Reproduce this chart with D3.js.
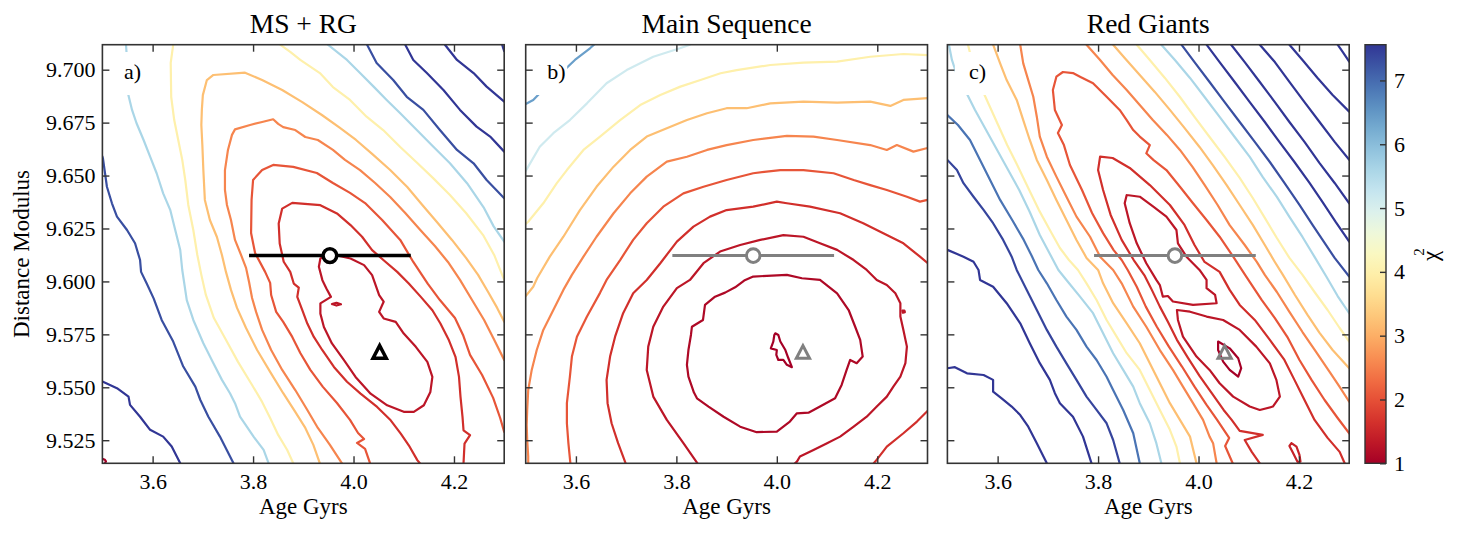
<!DOCTYPE html>
<html>
<head>
<meta charset="utf-8">
<script src="https://cdn.jsdelivr.net/npm/d3@7"></script>
<style>
  body { margin: 0; background: #fff; }
  svg { display: block; font-family: "Liberation Serif", "DejaVu Serif", serif; }
  svg text { font-family: "Liberation Serif", "DejaVu Serif", serif; }
</style>
</head>
<body>
<div id="chart"></div>
<script>
// ---- data ----
const panelTitles = ['MS + RG', 'Main Sequence', 'Red Giants'];
const panelTags = ['a)', 'b)', 'c)'];
const ageTicks = [3.6, 3.8, 4.0, 4.2];
const dmTicks = [9.525, 9.55, 9.575, 9.6, 9.625, 9.65, 9.675, 9.7];
const chiTicks = [1, 2, 3, 4, 5, 6, 7];
const ageRange = [3.5, 4.3];
const dmRange = [9.5141, 9.7118];
const chiRange = [1, 7.56];
// circle = best fit with age error, triangle = second solution
const circleFit = [3.953, 9.6122, 0.161];
const triangleFit = [4.052, 9.5667];
const markerColors = ['#000000', '#808080', '#808080'];

// chi2 contour lines, [age, distance modulus]
const contoursMSRG = [
  {level: 7.3, pts: [[3.500,9.6590],[3.501,9.6582],[3.509,9.6447],[3.519,9.6369],[3.529,9.6306],[3.549,9.6243],[3.565,9.6180],[3.575,9.6101],[3.577,9.6045],[3.588,9.5991],[3.602,9.5920],[3.618,9.5818],[3.641,9.5716],[3.661,9.5598],[3.685,9.5503],[3.695,9.5440],[3.711,9.5361],[3.734,9.5267],[3.761,9.5141]]},
  {level: 9, pts: [[3.500,9.5527],[3.529,9.5496],[3.552,9.5456],[3.555,9.5417],[3.575,9.5361],[3.595,9.5299],[3.621,9.5267],[3.638,9.5220],[3.655,9.5141]]},
  {level: 1.0, pts: [[3.500,9.5162],[3.505,9.5158],[3.507,9.5150],[3.505,9.5141]]},
  {level: 5.6, pts: [[3.547,9.7118],[3.549,9.7046],[3.551,9.6888],[3.559,9.6810],[3.568,9.6747],[3.582,9.6668],[3.595,9.6589],[3.608,9.6511],[3.621,9.6416],[3.635,9.6338],[3.645,9.6243],[3.655,9.6148],[3.659,9.6054],[3.668,9.5912],[3.681,9.5818],[3.701,9.5708],[3.721,9.5613],[3.738,9.5535],[3.754,9.5472],[3.764,9.5425],[3.774,9.5361],[3.801,9.5267],[3.821,9.5204],[3.831,9.5141]]},
  {level: 4.0, pts: [[3.641,9.7118],[3.636,9.7032],[3.637,9.6871],[3.643,9.6762],[3.651,9.6668],[3.659,9.6574],[3.665,9.6479],[3.671,9.6361],[3.681,9.6243],[3.689,9.6125],[3.697,9.6031],[3.706,9.5936],[3.722,9.5827],[3.744,9.5733],[3.770,9.5620],[3.798,9.5511],[3.818,9.5431],[3.834,9.5355],[3.850,9.5275],[3.868,9.5204],[3.880,9.5141]]},
  {level: 4.0, pts: [[3.854,9.7118],[3.874,9.7084],[3.894,9.7046],[3.933,9.6984],[3.959,9.6918],[3.993,9.6857],[4.026,9.6778],[4.059,9.6715],[4.093,9.6635],[4.127,9.6559],[4.158,9.6489],[4.192,9.6408],[4.224,9.6323],[4.258,9.6219],[4.280,9.6125],[4.300,9.6007]]},
  {level: 5.6, pts: [[3.949,9.7118],[3.987,9.7046],[4.013,9.6984],[4.040,9.6920],[4.066,9.6857],[4.093,9.6794],[4.126,9.6715],[4.159,9.6636],[4.192,9.6558],[4.226,9.6464],[4.259,9.6350],[4.279,9.6260],[4.300,9.6188]]},
  {level: 7.3, pts: [[4.027,9.7118],[4.046,9.7032],[4.079,9.6951],[4.106,9.6872],[4.139,9.6810],[4.172,9.6715],[4.206,9.6621],[4.239,9.6558],[4.265,9.6479],[4.300,9.6393]]},
  {level: 9, pts: [[4.103,9.7118],[4.119,9.7046],[4.146,9.6984],[4.179,9.6904],[4.212,9.6810],[4.245,9.6731],[4.272,9.6684],[4.300,9.6613]]},
  {level: 11, pts: [[4.182,9.7118],[4.206,9.7046],[4.239,9.6984],[4.265,9.6920],[4.300,9.6849]]},
  {level: 13, pts: [[4.296,9.7118],[4.298,9.7102],[4.300,9.7088]]},
  {level: 3.2, pts: [[3.933,9.5141],[3.920,9.5228],[3.904,9.5308],[3.884,9.5384],[3.860,9.5472],[3.834,9.5573],[3.808,9.5676],[3.786,9.5780],[3.768,9.5875],[3.756,9.5960],[3.746,9.6045],[3.738,9.6125],[3.728,9.6210],[3.714,9.6290],[3.704,9.6385],[3.701,9.6526],[3.699,9.6644],[3.697,9.6739],[3.698,9.6810],[3.700,9.6880],[3.708,9.6951],[3.721,9.6975],[3.784,9.6986],[3.818,9.6951],[3.858,9.6904],[3.898,9.6847],[3.937,9.6786],[3.973,9.6725],[4.005,9.6668],[4.037,9.6602],[4.073,9.6526],[4.107,9.6446],[4.137,9.6361],[4.166,9.6281],[4.196,9.6196],[4.224,9.6111],[4.248,9.6031],[4.268,9.5950],[4.286,9.5875],[4.300,9.5810]]},
  {level: 2.55, pts: [[3.977,9.5141],[3.953,9.5228],[3.929,9.5308],[3.908,9.5393],[3.884,9.5487],[3.858,9.5582],[3.836,9.5676],[3.818,9.5771],[3.806,9.5856],[3.798,9.5922],[3.792,9.5997],[3.786,9.6064],[3.776,9.6125],[3.764,9.6196],[3.756,9.6290],[3.748,9.6361],[3.744,9.6432],[3.744,9.6526],[3.750,9.6621],[3.758,9.6692],[3.764,9.6718],[3.794,9.6739],[3.818,9.6753],[3.840,9.6766],[3.850,9.6744],[3.860,9.6729],[3.884,9.6715],[3.904,9.6682],[3.929,9.6668],[3.959,9.6621],[3.983,9.6574],[4.013,9.6526],[4.043,9.6465],[4.073,9.6399],[4.103,9.6323],[4.133,9.6243],[4.162,9.6167],[4.188,9.6092],[4.212,9.6007],[4.236,9.5912],[4.260,9.5818],[4.280,9.5724],[4.300,9.5629]]},
  {level: 2.05, pts: [[4.033,9.5141],[4.023,9.5209],[4.007,9.5237],[4.021,9.5256],[4.009,9.5284],[3.993,9.5346],[3.967,9.5426],[3.939,9.5502],[3.914,9.5582],[3.894,9.5662],[3.878,9.5738],[3.860,9.5809],[3.846,9.5856],[3.836,9.5936],[3.834,9.5993],[3.824,9.6045],[3.804,9.6134],[3.796,9.6229],[3.797,9.6385],[3.800,9.6479],[3.818,9.6526],[3.840,9.6550],[3.880,9.6541],[3.927,9.6512],[3.959,9.6465],[3.993,9.6418],[4.023,9.6370],[4.057,9.6290],[4.093,9.6196],[4.119,9.6092],[4.148,9.5988],[4.172,9.5912],[4.202,9.5827],[4.218,9.5747],[4.232,9.5653],[4.256,9.5558],[4.278,9.5450],[4.292,9.5355],[4.300,9.5289]]},
  {level: 1.62, pts: [[4.132,9.5141],[4.127,9.5156],[4.110,9.5226],[4.094,9.5281],[4.074,9.5344],[4.047,9.5407],[4.014,9.5470],[3.987,9.5526],[3.961,9.5596],[3.938,9.5675],[3.921,9.5738],[3.908,9.5801],[3.898,9.5864],[3.888,9.5927],[3.891,9.5971],[3.881,9.5990],[3.874,9.6045],[3.861,9.6093],[3.853,9.6179],[3.851,9.6274],[3.858,9.6344],[3.878,9.6371],[3.934,9.6360],[3.967,9.6321],[3.994,9.6266],[4.017,9.6211],[4.037,9.6148],[4.060,9.6100],[4.087,9.6045],[4.110,9.5990],[4.134,9.5927],[4.157,9.5864],[4.173,9.5801],[4.190,9.5722],[4.203,9.5644],[4.210,9.5549],[4.213,9.5455],[4.217,9.5360],[4.219,9.5297],[4.232,9.5274],[4.221,9.5234],[4.219,9.5140]]},
  {level: 1.3, pts: [[3.953,9.6130],[3.934,9.6108],[3.931,9.6069],[3.938,9.6006],[3.946,9.5967],[3.955,9.5927],[3.934,9.5896],[3.934,9.5848],[3.941,9.5785],[3.957,9.5707],[3.981,9.5628],[4.004,9.5549],[4.034,9.5470],[4.067,9.5415],[4.100,9.5384],[4.120,9.5384],[4.140,9.5415],[4.153,9.5478],[4.157,9.5549],[4.147,9.5620],[4.124,9.5691],[4.100,9.5754],[4.084,9.5809],[4.060,9.5825],[4.051,9.5856],[4.060,9.5904],[4.051,9.5935],[4.044,9.5982],[4.037,9.6030],[4.021,9.6077],[3.994,9.6108],[3.974,9.6119],[3.953,9.6130]]},
  {level: 1.3, pts: [[3.957,9.5893],[3.966,9.5899],[3.975,9.5892],[3.966,9.5886],[3.957,9.5893]]}
];

const contoursMS = [
  {level: 6.4, pts: [[3.500,9.6838],[3.515,9.6857],[3.528,9.6889],[3.562,9.6965],[3.598,9.7046],[3.628,9.7101],[3.636,9.7118]]},
  {level: 5.13, pts: [[3.500,9.6522],[3.505,9.6542],[3.528,9.6636],[3.555,9.6700],[3.588,9.6762],[3.622,9.6841],[3.661,9.6936],[3.701,9.6998],[3.754,9.7061],[3.807,9.7101],[3.827,9.7118]]},
  {level: 4.0, pts: [[3.500,9.6271],[3.505,9.6282],[3.535,9.6369],[3.562,9.6464],[3.582,9.6526],[3.615,9.6621],[3.648,9.6684],[3.688,9.6762],[3.728,9.6833],[3.768,9.6880],[3.808,9.6920],[3.848,9.6951],[3.888,9.6983],[3.920,9.6998],[3.987,9.7022],[4.053,9.7033],[4.120,9.7038],[4.186,9.7061],[4.252,9.7074],[4.300,9.7069]]},
  {level: 3.2, pts: [[3.500,9.5931],[3.515,9.5975],[3.523,9.6016],[3.548,9.6117],[3.575,9.6211],[3.608,9.6337],[3.641,9.6447],[3.675,9.6542],[3.708,9.6621],[3.741,9.6684],[3.781,9.6723],[3.821,9.6762],[3.861,9.6794],[3.900,9.6818],[3.940,9.6818],[3.987,9.6841],[4.053,9.6849],[4.120,9.6844],[4.186,9.6849],[4.226,9.6829],[4.252,9.6857],[4.300,9.6866]]},
  {level: 2.55, pts: [[3.505,9.5141],[3.505,9.5173],[3.503,9.5251],[3.502,9.5322],[3.503,9.5393],[3.505,9.5487],[3.512,9.5582],[3.522,9.5676],[3.535,9.5771],[3.555,9.5865],[3.575,9.5960],[3.592,9.6031],[3.615,9.6117],[3.641,9.6211],[3.675,9.6322],[3.708,9.6416],[3.741,9.6495],[3.781,9.6566],[3.821,9.6589],[3.861,9.6621],[3.900,9.6644],[3.953,9.6668],[4.020,9.6687],[4.073,9.6684],[4.120,9.6668],[4.186,9.6644],[4.219,9.6621],[4.239,9.6644],[4.272,9.6613],[4.300,9.6630]]},
  {level: 2.05, pts: [[3.589,9.5141],[3.585,9.5236],[3.582,9.5330],[3.582,9.5425],[3.588,9.5550],[3.592,9.5645],[3.602,9.5739],[3.622,9.5834],[3.648,9.5946],[3.661,9.6007],[3.688,9.6101],[3.714,9.6196],[3.741,9.6275],[3.774,9.6353],[3.814,9.6416],[3.854,9.6447],[3.900,9.6479],[3.953,9.6511],[4.007,9.6526],[4.053,9.6526],[4.113,9.6511],[4.153,9.6479],[4.186,9.6455],[4.219,9.6432],[4.259,9.6400],[4.285,9.6377],[4.300,9.6385]]},
  {level: 1.62, pts: [[3.699,9.5141],[3.684,9.5236],[3.671,9.5330],[3.663,9.5425],[3.661,9.5535],[3.668,9.5645],[3.678,9.5739],[3.694,9.5850],[3.714,9.5944],[3.741,9.6007],[3.768,9.6086],[3.801,9.6188],[3.834,9.6259],[3.867,9.6306],[3.900,9.6337],[3.953,9.6353],[4.000,9.6377],[4.020,9.6369],[4.066,9.6353],[4.126,9.6322],[4.172,9.6275],[4.212,9.6227],[4.252,9.6180],[4.285,9.6117],[4.300,9.6087]]},
  {level: 1.62, pts: [[4.193,9.5141],[4.196,9.5149],[4.219,9.5220],[4.252,9.5283],[4.279,9.5338],[4.300,9.5388]]},
  {level: 1.3, pts: [[3.842,9.5141],[3.814,9.5236],[3.781,9.5346],[3.754,9.5456],[3.741,9.5582],[3.744,9.5692],[3.754,9.5786],[3.774,9.5881],[3.801,9.5968],[3.827,9.6007],[3.854,9.6086],[3.887,9.6141],[3.927,9.6172],[3.967,9.6196],[4.013,9.6219],[4.053,9.6211],[4.086,9.6180],[4.120,9.6149],[4.153,9.6101],[4.179,9.6054],[4.199,9.6007],[4.219,9.5983],[4.236,9.5944],[4.246,9.5897],[4.246,9.5834],[4.252,9.5771],[4.259,9.5692],[4.256,9.5614],[4.246,9.5550],[4.232,9.5503],[4.219,9.5456],[4.199,9.5409],[4.179,9.5361],[4.153,9.5314],[4.126,9.5267],[4.100,9.5236],[4.073,9.5204],[4.046,9.5173],[4.040,9.5149],[4.036,9.5141]]},
  {level: 1.3, pts: [[4.250,9.5862],[4.254,9.5862],[4.255,9.5855],[4.251,9.5852],[4.250,9.5862]]},
  {level: 1.12, pts: [[3.953,9.6023],[4.020,9.6031],[4.050,9.6015],[4.086,9.6007],[4.120,9.5944],[4.143,9.5865],[4.156,9.5786],[4.166,9.5724],[4.171,9.5645],[4.159,9.5614],[4.146,9.5629],[4.139,9.5582],[4.129,9.5511],[4.116,9.5448],[4.086,9.5409],[4.063,9.5380],[4.040,9.5377],[4.026,9.5338],[4.000,9.5291],[3.960,9.5288],[3.927,9.5314],[3.894,9.5361],[3.864,9.5409],[3.841,9.5448],[3.835,9.5475],[3.824,9.5550],[3.821,9.5606],[3.824,9.5676],[3.829,9.5747],[3.831,9.5786],[3.853,9.5818],[3.857,9.5889],[3.877,9.5928],[3.897,9.5947],[3.917,9.5972],[3.935,9.6004],[3.953,9.6023]]},
  {level: 0.95, pts: [[3.997,9.5755],[4.003,9.5747],[4.007,9.5716],[4.017,9.5676],[4.023,9.5637],[4.030,9.5595],[4.020,9.5606],[4.013,9.5629],[4.003,9.5629],[3.999,9.5653],[4.000,9.5676],[3.988,9.5684],[3.993,9.5716],[3.995,9.5747],[3.997,9.5755]]}
];

const contoursRG = [
  {level: 9, pts: [[3.500,9.5590],[3.515,9.5595],[3.539,9.5566],[3.572,9.5558],[3.591,9.5535],[3.591,9.5479],[3.608,9.5448],[3.628,9.5409],[3.645,9.5369],[3.661,9.5314],[3.678,9.5236],[3.698,9.5141]]},
  {level: 8.2, pts: [[3.500,9.6149],[3.532,9.6117],[3.552,9.6093],[3.562,9.6054],[3.565,9.6007],[3.591,9.5975],[3.618,9.5897],[3.645,9.5802],[3.664,9.5708],[3.684,9.5614],[3.704,9.5535],[3.714,9.5472],[3.724,9.5425],[3.750,9.5361],[3.770,9.5267],[3.787,9.5141]]},
  {level: 7.4, pts: [[3.500,9.6574],[3.519,9.6526],[3.532,9.6464],[3.552,9.6400],[3.572,9.6338],[3.591,9.6275],[3.611,9.6196],[3.628,9.6117],[3.638,9.6054],[3.658,9.5960],[3.678,9.5865],[3.698,9.5771],[3.717,9.5692],[3.737,9.5613],[3.757,9.5535],[3.777,9.5456],[3.797,9.5393],[3.817,9.5330],[3.830,9.5251],[3.843,9.5141]]},
  {level: 6.9, pts: [[3.500,9.6786],[3.521,9.6739],[3.545,9.6668],[3.565,9.6574],[3.585,9.6479],[3.605,9.6385],[3.629,9.6290],[3.652,9.6196],[3.668,9.6120],[3.681,9.6054],[3.698,9.5991],[3.717,9.5912],[3.737,9.5834],[3.757,9.5771],[3.777,9.5692],[3.797,9.5629],[3.817,9.5550],[3.830,9.5487],[3.850,9.5393],[3.870,9.5283],[3.883,9.5141]]},
  {level: 5.6, pts: [[3.503,9.7118],[3.509,9.7046],[3.519,9.6975],[3.535,9.6904],[3.555,9.6810],[3.577,9.6715],[3.599,9.6621],[3.621,9.6526],[3.643,9.6432],[3.664,9.6328],[3.684,9.6219],[3.702,9.6139],[3.721,9.6054],[3.737,9.6007],[3.764,9.5928],[3.790,9.5850],[3.810,9.5755],[3.830,9.5661],[3.850,9.5582],[3.870,9.5503],[3.883,9.5425],[3.903,9.5330],[3.916,9.5236],[3.926,9.5141]]},
  {level: 4.0, pts: [[3.541,9.7118],[3.551,9.7022],[3.565,9.6928],[3.583,9.6833],[3.601,9.6739],[3.619,9.6644],[3.639,9.6550],[3.660,9.6446],[3.682,9.6338],[3.704,9.6243],[3.724,9.6158],[3.742,9.6101],[3.760,9.6054],[3.777,9.5991],[3.797,9.5912],[3.817,9.5818],[3.837,9.5739],[3.857,9.5661],[3.883,9.5582],[3.903,9.5487],[3.923,9.5393],[3.943,9.5299],[3.956,9.5220],[3.963,9.5141]]},
  {level: 3.2, pts: [[3.591,9.7118],[3.605,9.7030],[3.618,9.6951],[3.638,9.6857],[3.651,9.6762],[3.664,9.6668],[3.678,9.6574],[3.698,9.6479],[3.717,9.6385],[3.737,9.6290],[3.757,9.6196],[3.777,9.6111],[3.800,9.6054],[3.810,9.5991],[3.830,9.5897],[3.857,9.5802],[3.883,9.5708],[3.903,9.5614],[3.923,9.5519],[3.943,9.5425],[3.963,9.5346],[3.983,9.5267],[3.996,9.5141]]},
  {level: 2.55, pts: [[3.645,9.7118],[3.651,9.7030],[3.661,9.6951],[3.671,9.6872],[3.678,9.6778],[3.684,9.6684],[3.698,9.6589],[3.717,9.6495],[3.737,9.6400],[3.757,9.6306],[3.784,9.6211],[3.804,9.6117],[3.830,9.6054],[3.847,9.5991],[3.870,9.5881],[3.896,9.5786],[3.923,9.5676],[3.949,9.5582],[3.969,9.5503],[3.989,9.5425],[4.009,9.5346],[4.022,9.5267],[4.029,9.5236],[4.036,9.5141]]},
  {level: 2.55, pts: [[3.777,9.7118],[3.804,9.7046],[3.829,9.6975],[3.857,9.6904],[3.883,9.6833],[3.909,9.6762],[3.937,9.6692],[3.963,9.6621],[3.988,9.6541],[4.012,9.6456],[4.038,9.6361],[4.062,9.6266],[4.092,9.6172],[4.116,9.6092],[4.132,9.6031],[4.156,9.5950],[4.181,9.5856],[4.207,9.5761],[4.234,9.5667],[4.261,9.5573],[4.281,9.5502],[4.300,9.5432]]},
  {level: 2.05, pts: [[4.068,9.5141],[4.053,9.5223],[4.061,9.5261],[4.037,9.5346],[4.016,9.5417],[3.992,9.5503],[3.967,9.5598],[3.941,9.5692],[3.917,9.5786],[3.895,9.5881],[3.877,9.5975],[3.859,9.6054],[3.847,9.6101],[3.831,9.6148],[3.810,9.6228],[3.788,9.6323],[3.768,9.6432],[3.744,9.6550],[3.732,9.6644],[3.720,9.6701],[3.728,9.6739],[3.714,9.6810],[3.710,9.6904],[3.717,9.6967],[3.730,9.6989],[3.750,9.6984],[3.764,9.6967],[3.790,9.6936],[3.817,9.6872],[3.843,9.6810],[3.857,9.6762],[3.870,9.6715],[3.883,9.6684],[3.903,9.6644],[3.896,9.6605],[3.910,9.6574],[3.936,9.6526],[3.963,9.6447],[3.989,9.6369],[4.016,9.6290],[4.042,9.6211],[4.069,9.6117],[4.095,9.6023],[4.126,9.5912],[4.152,9.5827],[4.178,9.5733],[4.201,9.5629],[4.225,9.5535],[4.251,9.5440],[4.277,9.5355],[4.300,9.5283]]},
  {level: 1.62, pts: [[4.122,9.5141],[4.106,9.5195],[4.092,9.5251],[4.128,9.5275],[4.082,9.5294],[4.066,9.5346],[4.050,9.5393],[4.026,9.5474],[4.002,9.5554],[3.979,9.5639],[3.957,9.5724],[3.939,9.5809],[3.923,9.5881],[3.907,9.5960],[3.893,9.6026],[3.871,9.6101],[3.847,9.6196],[3.825,9.6314],[3.810,9.6432],[3.800,9.6526],[3.804,9.6589],[3.829,9.6583],[3.863,9.6536],[3.903,9.6455],[3.943,9.6361],[3.972,9.6267],[3.992,9.6172],[4.012,9.6092],[4.042,9.6045],[4.062,9.5960],[4.082,9.5889],[4.112,9.5818],[4.142,9.5724],[4.171,9.5629],[4.191,9.5535],[4.211,9.5440],[4.231,9.5346],[4.257,9.5261],[4.281,9.5195],[4.291,9.5141]]},
  {level: 1.3, pts: [[3.857,9.6408],[3.883,9.6400],[3.910,9.6353],[3.936,9.6306],[3.956,9.6243],[3.959,9.6180],[3.976,9.6117],[4.002,9.6054],[4.016,9.6007],[4.016,9.5968],[4.033,9.5936],[4.036,9.5897],[3.989,9.5889],[3.949,9.5905],[3.939,9.5931],[3.929,9.5928],[3.923,9.5983],[3.916,9.6007],[3.896,9.6086],[3.877,9.6180],[3.863,9.6275],[3.853,9.6369],[3.857,9.6408]]},
  {level: 1.3, pts: [[3.957,9.5865],[3.983,9.5857],[4.016,9.5834],[4.049,9.5818],[4.082,9.5771],[4.115,9.5692],[4.142,9.5613],[4.155,9.5535],[4.162,9.5456],[4.148,9.5409],[4.122,9.5393],[4.102,9.5409],[4.069,9.5456],[4.042,9.5519],[4.022,9.5582],[3.996,9.5645],[3.969,9.5739],[3.959,9.5818],[3.957,9.5865]]},
  {level: 1.0, pts: [[4.039,9.5716],[4.062,9.5684],[4.079,9.5637],[4.085,9.5590],[4.079,9.5550],[4.062,9.5582],[4.049,9.5621],[4.039,9.5676],[4.039,9.5716]]},
  {level: 1.45, pts: [[4.185,9.5236],[4.195,9.5220],[4.201,9.5181],[4.203,9.5149],[4.197,9.5148],[4.187,9.5195],[4.181,9.5223],[4.185,9.5236]]},
  {level: 3.2, pts: [[3.830,9.7118],[3.853,9.7055],[3.883,9.6975],[3.913,9.6895],[3.943,9.6810],[3.972,9.6725],[4.002,9.6635],[4.028,9.6550],[4.056,9.6455],[4.082,9.6361],[4.108,9.6267],[4.132,9.6172],[4.152,9.6092],[4.168,9.6031],[4.192,9.5936],[4.217,9.5842],[4.241,9.5757],[4.267,9.5676],[4.300,9.5590]]},
  {level: 4.0, pts: [[3.877,9.7118],[3.903,9.7046],[3.933,9.6961],[3.963,9.6871],[3.992,9.6777],[4.022,9.6682],[4.052,9.6588],[4.082,9.6489],[4.108,9.6394],[4.132,9.6300],[4.156,9.6205],[4.181,9.6111],[4.207,9.6031],[4.231,9.5950],[4.257,9.5865],[4.281,9.5780],[4.300,9.5716]]},
  {level: 5.6, pts: [[3.926,9.7118],[3.953,9.7046],[3.983,9.6961],[4.012,9.6871],[4.042,9.6777],[4.072,9.6682],[4.102,9.6588],[4.128,9.6493],[4.156,9.6399],[4.181,9.6305],[4.207,9.6210],[4.231,9.6116],[4.255,9.6021],[4.277,9.5931],[4.300,9.5850]]},
  {level: 7.3, pts: [[3.966,9.7118],[3.992,9.7036],[4.022,9.6942],[4.052,9.6847],[4.082,9.6753],[4.112,9.6659],[4.142,9.6564],[4.171,9.6465],[4.201,9.6361],[4.227,9.6267],[4.251,9.6182],[4.271,9.6111],[4.300,9.6023]]},
  {level: 8.5, pts: [[4.016,9.7118],[4.042,9.7036],[4.072,9.6942],[4.102,9.6847],[4.132,9.6753],[4.161,9.6659],[4.191,9.6564],[4.221,9.6465],[4.247,9.6375],[4.273,9.6281],[4.300,9.6188]]},
  {level: 10, pts: [[4.065,9.7118],[4.092,9.7036],[4.122,9.6942],[4.152,9.6847],[4.181,9.6753],[4.211,9.6659],[4.241,9.6559],[4.271,9.6465],[4.300,9.6369]]},
  {level: 11.5, pts: [[4.122,9.7118],[4.152,9.7036],[4.181,9.6942],[4.211,9.6847],[4.241,9.6753],[4.271,9.6659],[4.300,9.6574]]},
  {level: 13, pts: [[4.181,9.7118],[4.207,9.7046],[4.237,9.6961],[4.267,9.6880],[4.300,9.6802]]},
  {level: 15, pts: [[4.277,9.7118],[4.287,9.7084],[4.300,9.7038]]}
];

// ---- layout ----
const width = 1461, height = 537;
const plotTop = 44.7, plotBottom = 463.3;
const panelLeft = [102.4, 525.7, 947.4];
const panelWidth = 401.8;
const fontTick = 22, fontLabel = 23, fontTitle = 27.5;
const serif = '"Liberation Serif", "DejaVu Serif", serif';

const svg = d3.select('#chart').append('svg')
    .attr('width', width)
    .attr('height', height)
    .attr('font-family', serif);
const defs = svg.append('defs');

const color = d3.scaleSequential(d3.interpolateRdYlBu).domain(chiRange).clamp(true);

function styleAxis(sel) {
  sel.attr('font-family', serif).attr('font-size', fontTick);
  sel.select('.domain').remove();
  sel.selectAll('.tick line').attr('stroke', '#333').attr('stroke-width', 1.4);
  sel.selectAll('.tick text')
      .attr('fill', '#000')
      .style('font-family', serif)
      .style('font-size', fontTick + 'px');
}

[contoursMSRG, contoursMS, contoursRG].forEach((lines, i) => {
  const x0 = panelLeft[i];
  const x = d3.scaleLinear().domain(ageRange).range([x0, x0 + panelWidth]);
  const y = d3.scaleLinear().domain(dmRange).range([plotBottom, plotTop]);
  const g = svg.append('g');

  defs.append('clipPath').attr('id', 'clip' + i)
    .append('rect')
      .attr('x', x0).attr('y', plotTop)
      .attr('width', panelWidth).attr('height', plotBottom - plotTop);

  const plot = g.append('g').attr('clip-path', `url(#clip${i})`);
  const line = d3.line().x(d => x(d[0])).y(d => y(d[1]));

  plot.selectAll('path.contour')
    .data(lines)
    .join('path')
      .attr('class', 'contour')
      .attr('d', d => line(d.pts))
      .attr('fill', 'none')
      .attr('stroke', d => color(d.level))
      .attr('stroke-width', 2.2)
      .attr('stroke-linejoin', 'round')
      .attr('stroke-linecap', 'round');

  // panel tag with white box behind it
  const tx = x0 + 21.5;
  plot.append('rect')
      .attr('x', tx - 14).attr('y', 52)
      .attr('width', 34).attr('height', 43)
      .attr('fill', '#fff');
  plot.append('text')
      .attr('x', tx).attr('y', 79)
      .attr('font-size', fontTick)
      .text(panelTags[i]);

  // markers
  const mc = markerColors[i];
  const lw = i === 0 ? 3.5 : 3;
  plot.append('line')
      .attr('x1', x(circleFit[0] - circleFit[2]))
      .attr('x2', x(circleFit[0] + circleFit[2]))
      .attr('y1', y(circleFit[1])).attr('y2', y(circleFit[1]))
      .attr('stroke', mc).attr('stroke-width', lw);
  plot.append('circle')
      .attr('cx', x(circleFit[0])).attr('cy', y(circleFit[1]))
      .attr('r', 6.8)
      .attr('fill', '#fff')
      .attr('stroke', mc).attr('stroke-width', lw);
  plot.append('path')
      .attr('transform', `translate(${x(triangleFit[0])},${y(triangleFit[1])})`)
      .attr('d', 'M0,-6.3L6.6,6.3L-6.6,6.3Z')
      .attr('fill', 'none')
      .attr('stroke', mc).attr('stroke-width', lw)
      .attr('stroke-linejoin', 'miter');

  // axes, ticks pointing inwards on all sides
  g.append('g')
      .attr('transform', `translate(0,${plotBottom})`)
      .call(d3.axisBottom(x).tickValues(ageTicks).tickFormat(d3.format('.1f')).tickSize(-7).tickPadding(10))
      .call(styleAxis);
  g.append('g')
      .attr('transform', `translate(0,${plotTop})`)
      .call(d3.axisTop(x).tickValues(ageTicks).tickFormat('').tickSize(-7))
      .call(styleAxis);
  g.append('g')
      .attr('transform', `translate(${x0},0)`)
      .call(d3.axisLeft(y).tickValues(dmTicks)
          .tickFormat(i === 0 ? d3.format('.3f') : '').tickSize(-7).tickPadding(7))
      .call(styleAxis);
  g.append('g')
      .attr('transform', `translate(${x0 + panelWidth},0)`)
      .call(d3.axisRight(y).tickValues(dmTicks).tickFormat('').tickSize(-7))
      .call(styleAxis);

  g.append('rect')
      .attr('x', x0).attr('y', plotTop)
      .attr('width', panelWidth).attr('height', plotBottom - plotTop)
      .attr('fill', 'none')
      .attr('stroke', '#333').attr('stroke-width', 1.6);

  g.append('text')
      .attr('x', x0 + panelWidth / 2).attr('y', 33)
      .attr('text-anchor', 'middle')
      .attr('font-size', fontTitle)
      .text(panelTitles[i]);
  g.append('text')
      .attr('x', x0 + panelWidth / 2).attr('y', 514)
      .attr('text-anchor', 'middle')
      .attr('font-size', fontLabel)
      .text('Age Gyrs');
});

svg.append('text')
    .attr('transform', `translate(28.5,${(plotTop + plotBottom) / 2}) rotate(-90)`)
    .attr('text-anchor', 'middle')
    .attr('font-size', fontLabel)
    .text('Distance Modulus');

// ---- colour bar ----
const cbLeft = 1365, cbRight = 1386;
const cy = d3.scaleLinear().domain(chiRange).range([plotBottom, plotTop]);
const grad = defs.append('linearGradient')
    .attr('id', 'chiGrad')
    .attr('x1', 0).attr('y1', 1).attr('x2', 0).attr('y2', 0);
d3.range(0, 1.0001, 0.05).forEach(t => {
  grad.append('stop').attr('offset', t).attr('stop-color', d3.interpolateRdYlBu(t));
});
svg.append('rect')
    .attr('x', cbLeft).attr('y', plotTop)
    .attr('width', cbRight - cbLeft).attr('height', plotBottom - plotTop)
    .attr('fill', 'url(#chiGrad)');
svg.append('g')
    .attr('transform', `translate(${cbRight},0)`)
    .call(d3.axisRight(cy).tickValues(chiTicks).tickFormat(d3.format('d')).tickSize(-6).tickPadding(8))
    .call(styleAxis);
svg.append('rect')
    .attr('x', cbLeft).attr('y', plotTop)
    .attr('width', cbRight - cbLeft).attr('height', plotBottom - plotTop)
    .attr('fill', 'none')
    .attr('stroke', '#333').attr('stroke-width', 1.4);

svg.append('text')
    .attr('transform', 'translate(1438,256) rotate(-90)')
    .attr('text-anchor', 'middle')
    .attr('font-size', fontLabel)
    .text('χ');
svg.append('text')
    .attr('transform', 'translate(1424,252) rotate(-90)')
    .attr('text-anchor', 'middle')
    .attr('font-size', 15)
    .text('2');
</script>
</body>
</html>
